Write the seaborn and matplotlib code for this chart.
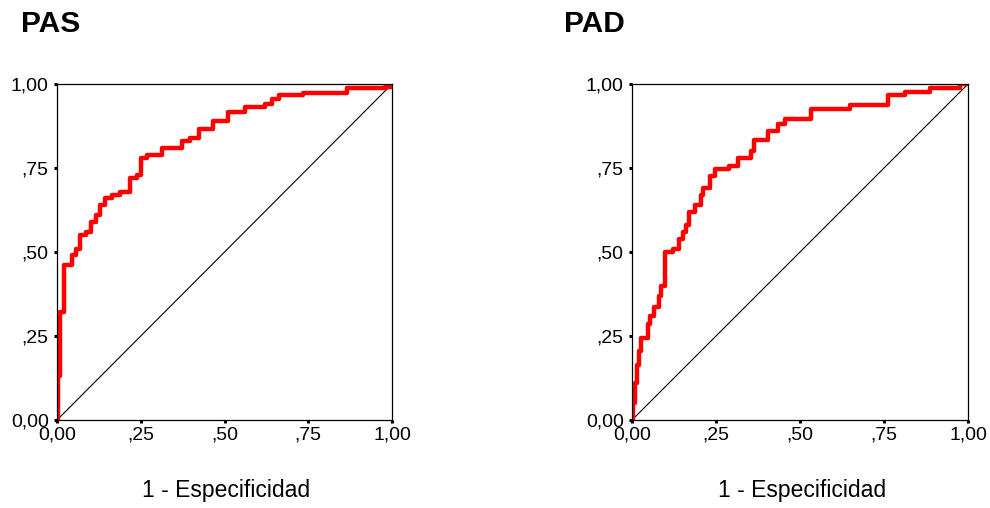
import numpy as np
import pandas as pd
import matplotlib
matplotlib.use('Agg')
import matplotlib.pyplot as plt
import seaborn as sns

# ROC steps: at each fpr the curve rises to tpr
pas_fpr = [0.0, 0.003, 0.010, 0.020, 0.045, 0.058, 0.068, 0.085, 0.100, 0.115,
           0.127, 0.144, 0.164, 0.189, 0.217, 0.239, 0.251, 0.269, 0.313, 0.373,
           0.398, 0.423, 0.467, 0.511, 0.561, 0.621, 0.641, 0.664, 0.735, 0.865,
           0.979, 1.0]
pas_tpr = [0.0, 0.13, 0.32, 0.46, 0.49, 0.51, 0.55, 0.56, 0.59, 0.61,
           0.64, 0.66, 0.67, 0.68, 0.72, 0.73, 0.78, 0.79, 0.81, 0.83,
           0.84, 0.865, 0.889, 0.916, 0.932, 0.941, 0.954, 0.966, 0.974, 0.987,
           0.99, 1.0]

pad_fpr = [0.0, 0.002, 0.009, 0.015, 0.022, 0.027, 0.047, 0.055, 0.065, 0.080,
           0.087, 0.097, 0.121, 0.141, 0.151, 0.161, 0.171, 0.186, 0.204, 0.211,
           0.231, 0.246, 0.290, 0.315, 0.355, 0.363, 0.405, 0.435, 0.455, 0.534,
           0.648, 0.762, 0.812, 0.887, 0.976, 1.0]
pad_tpr = [0.0, 0.05, 0.11, 0.165, 0.205, 0.245, 0.285, 0.31, 0.337, 0.37,
           0.40, 0.50, 0.51, 0.54, 0.56, 0.58, 0.62, 0.64, 0.67, 0.69,
           0.725, 0.747, 0.755, 0.78, 0.80, 0.834, 0.86, 0.882, 0.896, 0.926,
           0.939, 0.966, 0.976, 0.987, 1.0, 1.0]

ticks = [0, 0.25, 0.5, 0.75, 1.0]
tick_labels = ['0,00', ',25', ',50', ',75', '1,00']

sns.set_style('white')
plt.rcParams['font.family'] = ['Liberation Sans', 'DejaVu Sans']
plt.rcParams['text.color'] = 'black'

fig = plt.figure(figsize=(9.9, 5.08), dpi=100)

panels = [
    ('PAS', pas_fpr, pas_tpr, [0.0576, 0.1732, 0.3384, 0.6614], 0.021),
    ('PAD', pad_fpr, pad_tpr, [0.6384, 0.1732, 0.3394, 0.6614], 0.570),
]

for title, fpr, tpr, rect, tx in panels:
    ax = fig.add_axes(rect)
    df = pd.DataFrame({'fpr': fpr, 'tpr': tpr})
    sns.lineplot(x=[0, 1], y=[0, 1], color='black', lw=0.8, ax=ax)
    sns.lineplot(data=df, x='fpr', y='tpr', color='#ff0000', lw=3.2,
                 drawstyle='steps-post', estimator=None, sort=False, ax=ax)
    ax.set_xlim(0, 1)
    ax.set_ylim(0, 1)
    ax.set_xticks(ticks)
    ax.set_xticklabels(tick_labels)
    ax.set_yticks(ticks)
    ax.set_yticklabels(tick_labels)
    ax.tick_params(direction='out', length=2.5, width=2.2, colors='black',
                   labelcolor='black', labelsize=14, pad=3.5,
                   bottom=True, left=True)
    ax.tick_params(axis='x', pad=2.5)
    for s in ax.spines.values():
        s.set_visible(True)
        s.set_color('black')
        s.set_linewidth(0.9)
    ax.set_xlabel('')
    ax.set_ylabel('')
    cx = rect[0] + rect[2] / 2 + 0.002
    fig.text(cx, 1 - 491 / 508, '1 - Especificidad', ha='center', va='center',
             fontsize=16.5, color='black')
    fig.text(tx, 1 - 24.5 / 508, title, ha='left', va='center', fontsize=21.5,
             fontweight='bold', color='black')

fig.savefig('out.png', dpi=100)
